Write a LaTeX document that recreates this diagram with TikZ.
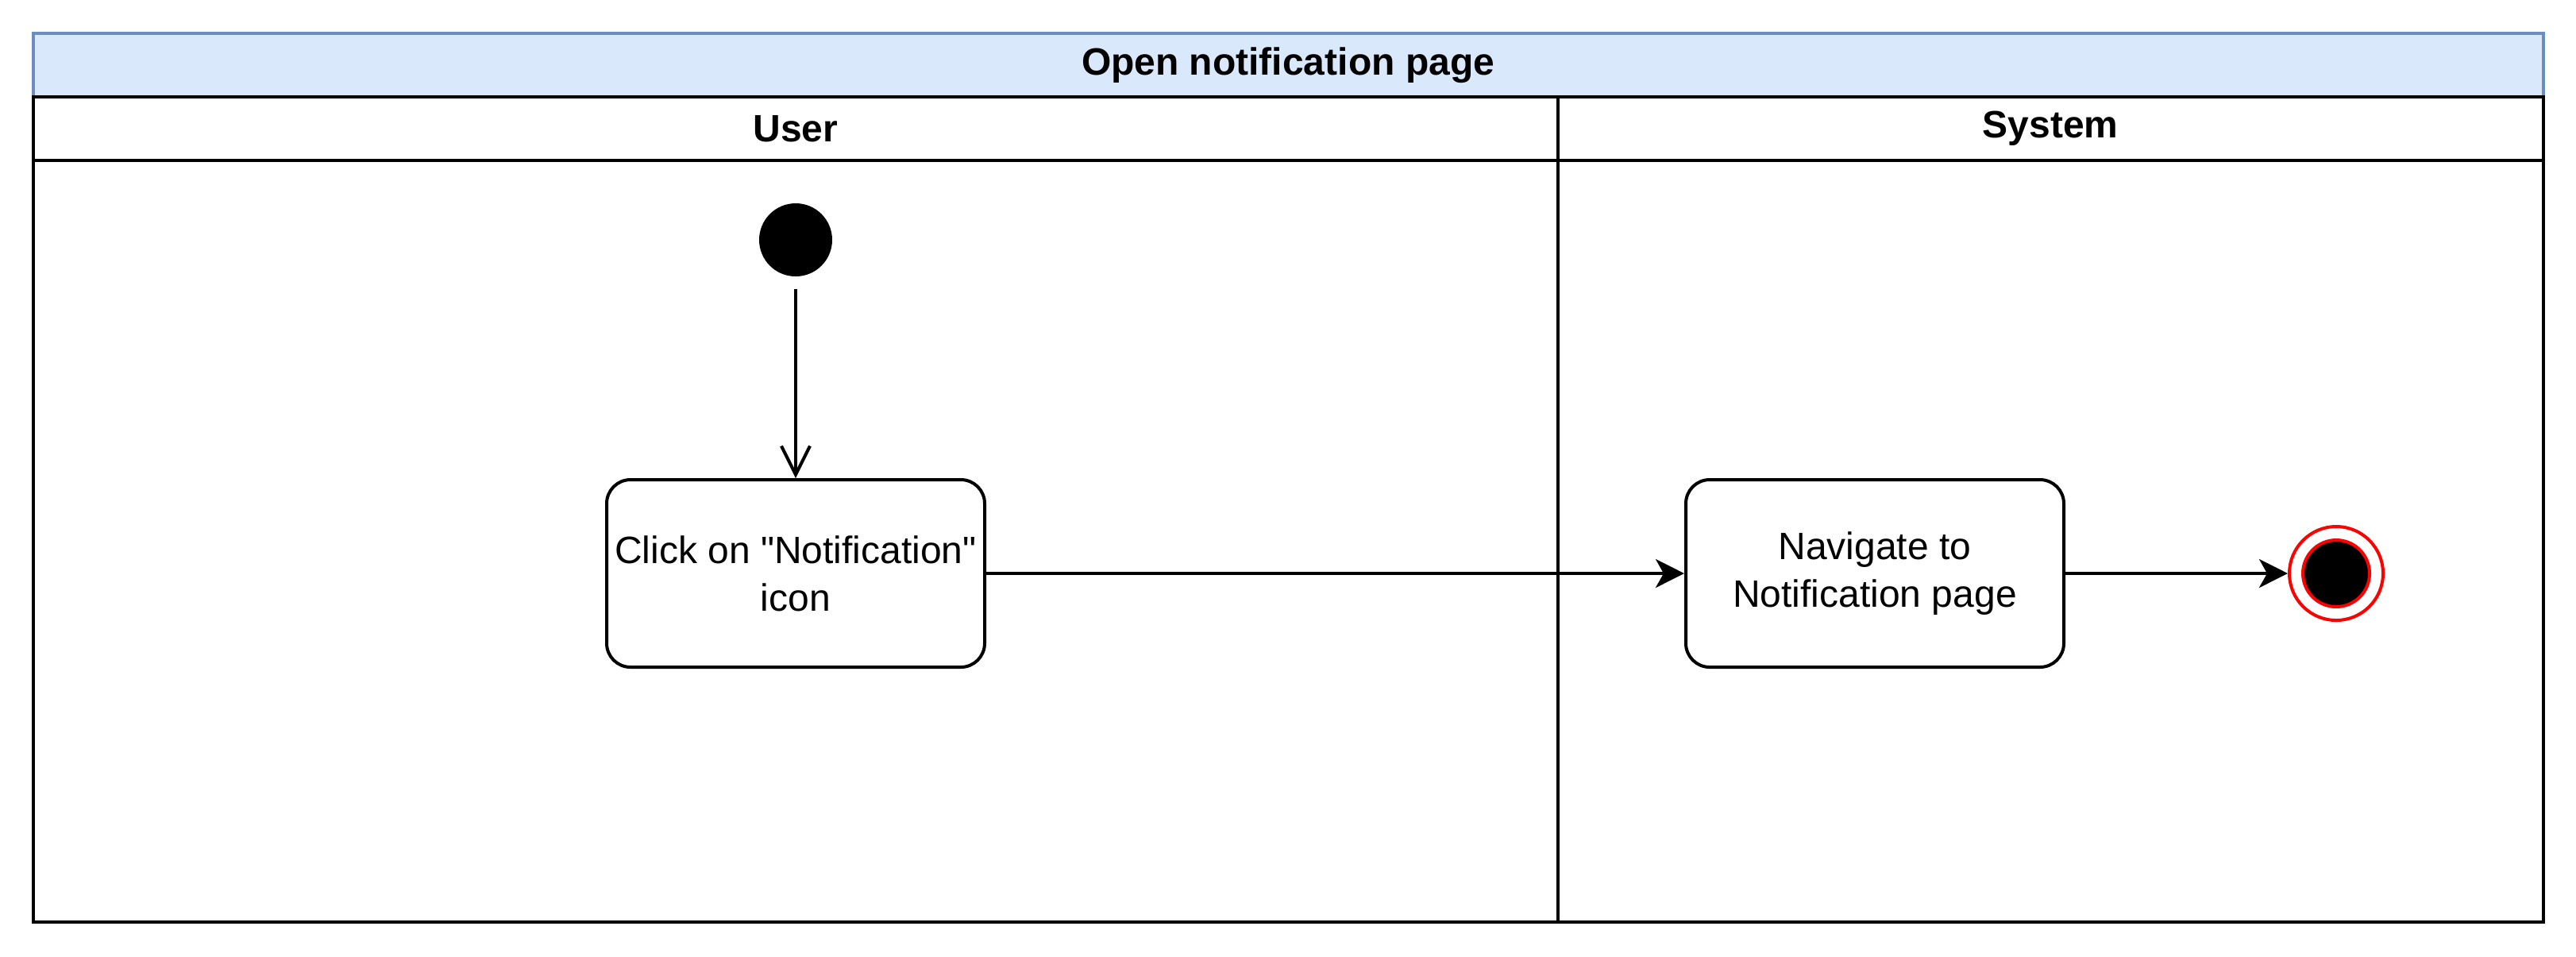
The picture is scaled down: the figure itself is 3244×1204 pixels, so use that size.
\documentclass[tikz,border=0pt]{standalone}
\usepackage{fontspec}
\setmainfont{Liberation Sans}
\usetikzlibrary{arrows.meta}
\definecolor{poolTitleFill}{HTML}{DAE8FC}
\definecolor{poolTitleLine}{HTML}{6C8EBF}
\newcommand{\actFont}{\fontsize{12}{15}\selectfont}

\begin{document}
\begin{tikzpicture}[x=0.25pt,y=-0.25pt,line width=1pt,
  actBox/.style={draw, rounded corners=7.5pt, minimum width=119pt, minimum height=59pt, inner sep=0pt, align=center, font=\actFont},
  laneLabel/.style={inner sep=0pt, font=\actFont\bfseries},
  flowOpen/.style={-{Straight Barb[length=9pt,width=9pt]}},
  flowFill/.style={-{Stealth[length=9pt,width=9pt,inset=2.5pt]}}]
\useasboundingbox (0,0) rectangle (3244,1204);
% pool and lanes
\draw[draw=poolTitleLine, fill=poolTitleFill] (42,122) -- (42,42) -- (3203,42) -- (3203,122);
\draw (42,122) rectangle (3203,1161);
\draw (42,202) -- (3203,202);
\draw (1962,122) -- (1962,1161);
\node[laneLabel] (poolTitle) at (1622,82) {Open notification page};
\node[laneLabel] (userLane) at (1002,162) {User};
\node[laneLabel] (systemLane) at (2582,162) {System};
% activities
\node[circle, fill=black, minimum size=23pt, inner sep=0pt] (startNode) at (1002,302) {};
\node[actBox] (clickIcon) at (1002,722) {Click on \textquotedbl Notification\textquotedbl\\icon};
\node[actBox] (navPage) at (2361,722) {Navigate to\\Notification page};
\node[circle, draw=red, minimum size=29.5pt, inner sep=0pt] (endNode) at (2942,722) {};
\node[circle, draw=red, fill=black, minimum size=21pt, inner sep=0pt] (endDot) at (endNode.center) {};
% flows
\draw[flowOpen] ([yshift=-3.5pt]startNode.south) -- (clickIcon.north);
\draw[flowFill] (clickIcon.east) -- (navPage.west);
\draw[flowFill] (navPage.east) -- (endNode.west);
\end{tikzpicture}
\end{document}
